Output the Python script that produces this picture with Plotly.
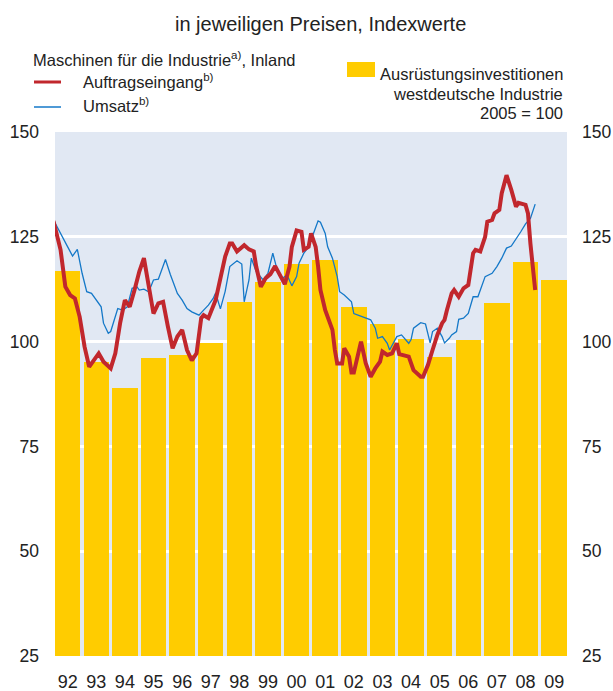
import plotly.graph_objects as go

# ---------------- data ----------------
years = ["92", "93", "94", "95", "96", "97", "98", "99", "00", "01",
         "02", "03", "04", "05", "06", "07", "08", "09"]
bar_dates = [f"{1992 + i}-07-01" for i in range(len(years))]
investment = [116.8, 95.1, 88.9, 96.0, 96.7, 99.6, 109.4, 114.2, 118.6, 119.4,
              108.2, 104.2, 100.6, 96.3, 100.3, 109.2, 119.0, 114.7]

orders_months = [
    "1992-01", "1992-04", "1992-06", "1992-08", "1992-10", "1992-12", "1993-02", "1993-04",
    "1993-06", "1993-08", "1993-10", "1994-01", "1994-03", "1994-05", "1994-07", "1994-09",
    "1994-11", "1995-01", "1995-03", "1995-05", "1995-07", "1995-09", "1995-11", "1996-01",
    "1996-03", "1996-05", "1996-07", "1996-09", "1996-11", "1997-01", "1997-03", "1997-04",
    "1997-06", "1997-09", "1997-11", "1998-01", "1998-03", "1998-04", "1998-06", "1998-09",
    "1998-11", "1999-01", "1999-02", "1999-04", "1999-06", "1999-08", "1999-10", "1999-12",
    "2000-02", "2000-04", "2000-05", "2000-07", "2000-09", "2000-10", "2000-12", "2001-01",
    "2001-03", "2001-04", "2001-05", "2001-07", "2001-10", "2001-11", "2001-12", "2002-02",
    "2002-03", "2002-05", "2002-06", "2002-07", "2002-09", "2002-10", "2002-12", "2003-02",
    "2003-04", "2003-06", "2003-07", "2003-09", "2003-11", "2004-01", "2004-02", "2004-04",
    "2004-06", "2004-08", "2004-11", "2004-12", "2005-02", "2005-04", "2005-06", "2005-08",
    "2005-09", "2005-10", "2005-12", "2006-01", "2006-03", "2006-05", "2006-07", "2006-09",
    "2006-10", "2006-12", "2007-02", "2007-03", "2007-05", "2007-06", "2007-08", "2007-09",
    "2007-11", "2008-01", "2008-03", "2008-04", "2008-07", "2008-08", "2008-09", "2008-11",
]
orders = [
    128.8, 121.9, 113.1, 111.1, 110.3, 105.9, 98.8, 94.0,
    95.6, 97.2, 95.2, 93.6, 97.2, 104.4, 109.9, 108.3,
    112.3, 116.7, 119.9, 113.9, 106.7, 109.1, 109.5, 103.6,
    98.4, 101.2, 102.8, 98.0, 95.5, 97.2, 105.6, 106.3,
    105.6, 109.9, 114.7, 120.3, 123.4, 123.4, 121.5, 123.0,
    122.0, 121.5, 117.9, 113.1, 115.1, 116.1, 118.0, 115.9,
    113.7, 117.9, 122.6, 126.5, 126.2, 121.9, 122.6, 125.8,
    122.6, 117.9, 112.3, 107.5, 102.8, 98.0, 94.8, 94.8,
    98.4, 96.4, 92.6, 92.6, 97.6, 100.0, 94.8, 91.6,
    93.6, 95.2, 97.6, 96.8, 97.2, 99.6, 97.0, 96.8,
    96.4, 93.2, 91.6, 91.6, 94.4, 98.0, 101.6, 104.4,
    105.2, 107.5, 111.5, 112.3, 110.7, 112.7, 113.5, 121.1,
    121.9, 121.5, 125.0, 128.6, 129.0, 130.6, 131.4, 135.4,
    139.7, 136.2, 132.2, 133.1, 132.6, 130.6, 123.4, 112.3,
]

sales_months = [
    "1992-01", "1992-03", "1992-05", "1992-07", "1992-09", "1992-11", "1993-01", "1993-03",
    "1993-05", "1993-07", "1993-09", "1993-10", "1993-12", "1994-01", "1994-03", "1994-04",
    "1994-06", "1994-08", "1994-10", "1994-12", "1995-01", "1995-03", "1995-05", "1995-07",
    "1995-09", "1995-12", "1996-02", "1996-04", "1996-05", "1996-07", "1996-09", "1996-11",
    "1997-02", "1997-04", "1997-06", "1997-08", "1997-09", "1997-11", "1998-01", "1998-03",
    "1998-06", "1998-08", "1998-09", "1998-11", "1998-12", "1999-02", "1999-05", "1999-07",
    "1999-09", "1999-11", "2000-01", "2000-03", "2000-05", "2000-07", "2000-08", "2000-10",
    "2000-12", "2001-02", "2001-04", "2001-05", "2001-07", "2001-08", "2001-10", "2001-12",
    "2002-01", "2002-03", "2002-05", "2002-06", "2002-07", "2002-09", "2002-11", "2003-02",
    "2003-04", "2003-05", "2003-07", "2003-09", "2003-10", "2003-11", "2004-01", "2004-03",
    "2004-06", "2004-07", "2004-08", "2004-11", "2005-01", "2005-03", "2005-04", "2005-06",
    "2005-08", "2005-09", "2005-11", "2005-12", "2006-02", "2006-03", "2006-05", "2006-07",
    "2006-09", "2006-11", "2006-12", "2007-02", "2007-05", "2007-07", "2007-09", "2007-11",
    "2008-01", "2008-03", "2008-05", "2008-07", "2008-09", "2008-11",
]
sales = [
    129.0, 127.0, 125.0, 122.6, 120.4, 122.0, 116.3, 111.9,
    111.5, 109.9, 108.3, 104.4, 102.0, 102.4, 105.9, 107.9,
    107.5, 108.3, 112.7, 113.1, 112.3, 112.5, 111.9, 114.7,
    114.9, 119.6, 116.0, 113.3, 111.5, 109.9, 107.9, 107.1,
    106.3, 107.5, 108.7, 110.3, 111.6, 107.8, 112.0, 117.9,
    119.3, 118.5, 109.5, 114.7, 119.9, 116.7, 114.7, 116.3,
    121.1, 116.7, 115.1, 115.9, 113.3, 115.5, 118.7, 121.1,
    122.6, 125.8, 128.8, 128.5, 125.8, 122.6, 119.9, 115.5,
    111.9, 111.1, 109.9, 109.5, 106.7, 106.3, 105.9, 105.2,
    103.2, 100.8, 101.2, 99.6, 98.0, 99.2, 101.2, 101.6,
    99.6, 100.5, 103.2, 104.5, 104.2, 99.7, 102.4, 103.2,
    101.2, 99.7, 100.8, 101.6, 102.4, 105.3, 105.6, 106.7,
    110.7, 110.7, 112.3, 115.5, 116.3, 117.9, 119.9, 122.3,
    122.8, 124.4, 126.2, 128.1, 129.4, 132.8,
]

y_ticks = [25, 50, 75, 100, 125, 150]

# ---------------- style ----------------
FONT = "Liberation Sans, Arial, Helvetica, sans-serif"
TXT = "#222222"
YELLOW = "#ffcc00"
RED = "#c1272d"
BLUE = "#1478c8"
BG = "#e1e8f3"
YEAR_MS = 365.25 * 24 * 3600 * 1000
TICK_SIZE = 17.5

fig = go.Figure()
fig.add_trace(go.Bar(x=bar_dates, y=investment, width=0.89 * YEAR_MS,
                     marker=dict(color=YELLOW, line=dict(width=0)),
                     base=0, showlegend=False, hoverinfo="skip"))
fig.add_trace(go.Scatter(x=[m + "-01" for m in sales_months], y=sales, mode="lines",
                         line=dict(color=BLUE, width=1.3), showlegend=False))
fig.add_trace(go.Scatter(x=[m + "-01" for m in orders_months], y=orders, mode="lines",
                         line=dict(color=RED, width=4), showlegend=False, yaxis="y2"))

fig.update_layout(
    width=613, height=691,
    margin=dict(l=55, r=46, t=132, b=35, autoexpand=False),
    paper_bgcolor="white", plot_bgcolor=BG,
    font=dict(family=FONT, color=TXT, size=TICK_SIZE),
    bargap=0,
    xaxis=dict(type="date", range=["1992-01-21", "2009-12-12"], automargin=False,
               tickvals=bar_dates, ticktext=years, ticks="",
               showgrid=False, zeroline=False, showline=False,
               tickfont=dict(size=18, color=TXT), ticklabelstandoff=13),
    yaxis=dict(range=[25, 150], tickvals=y_ticks, ticks="", automargin=False,
               showgrid=True, gridcolor="white", gridwidth=3,
               zeroline=False, showline=False,
               tickfont=dict(size=TICK_SIZE, color=TXT), ticklabelstandoff=15),
    yaxis2=dict(range=[25, 150], tickvals=y_ticks, ticks="", overlaying="y",
                side="right", matches="y", showgrid=False, zeroline=False,
                showline=False, automargin=False,
                tickfont=dict(size=TICK_SIZE, color=TXT), ticklabelstandoff=14),
)

W, H, X0, YB = 512.0, 524.0, 55.0, 656.0
def px(x):
    return (x - X0) / W
def py(y):
    return (YB - y) / H

ann = []
def text(t, x, y, xanchor="left", size=16.5):
    ann.append(dict(text=t, x=px(x), y=py(y), xref="paper", yref="paper",
                    xanchor=xanchor, yanchor="middle", showarrow=False,
                    font=dict(size=size, color=TXT, family=FONT)))

text("in jeweiligen Preisen, Indexwerte", 320, 24, "center", 20)
text("Maschinen für die Industrie<sup>a)</sup>, Inland", 31, 59)
text("Auftragseingang<sup>b)</sup>", 81, 81)
text("Umsatz<sup>b)</sup>", 81, 105)
text("Ausrüstungsinvestitionen", 565, 74, "right")
text("westdeutsche Industrie", 565, 94, "right")
text("2005 = 100", 565, 113, "right")
fig.update_layout(annotations=ann)

fig.add_shape(type="line", xref="paper", yref="paper", x0=px(34), x1=px(61),
              y0=py(82), y1=py(82), line=dict(color=RED, width=3))
fig.add_shape(type="line", xref="paper", yref="paper", x0=px(34), x1=px(61),
              y0=py(107), y1=py(107), line=dict(color=BLUE, width=1.5))
fig.add_shape(type="rect", xref="paper", yref="paper", x0=px(347), x1=px(375),
              y0=py(77), y1=py(62), fillcolor=YELLOW, line=dict(width=0))

fig.write_html("out.html", config={"displayModeBar": False},
               post_script="document.body.style.margin='0';"
                           "document.body.style.overflow='hidden';")
